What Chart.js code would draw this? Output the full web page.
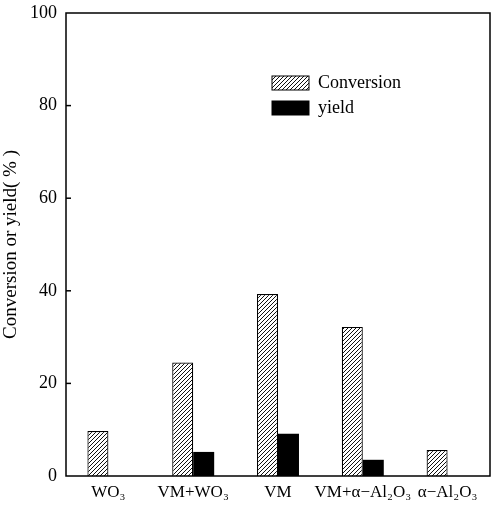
<!DOCTYPE html>
<html>
<head>
<meta charset="utf-8">
<script src="https://cdn.jsdelivr.net/npm/chart.js@4.4.0/dist/chart.umd.min.js"></script>
<style>
html,body{margin:0;padding:0;background:#fff;}
#wrap{width:496px;height:512px;position:relative;}
</style>
</head>
<body>
<div id="wrap"><canvas id="c" width="496" height="512"></canvas></div>
<script>
const categories = ['WO₃', 'VM+WO₃', 'VM', 'VM+α−Al₂O₃', 'α−Al₂O₃'];
const conversion = [9.7, 24.5, 39.3, 32.2, 5.6];
const yieldVals = [0, 5.2, 9.1, 3.5, 0];
const yTicks = [0, 20, 40, 60, 80, 100];
const seriesNames = ['Conversion', 'yield'];

function hatch() {
  const s = 4;
  const p = document.createElement('canvas');
  p.width = s; p.height = s;
  const g = p.getContext('2d');
  g.fillStyle = '#fff'; g.fillRect(0, 0, s, s);
  g.strokeStyle = '#111'; g.lineWidth = 1;
  g.beginPath();
  g.moveTo(0, s); g.lineTo(s, 0);
  g.moveTo(-1, 1); g.lineTo(1, -1);
  g.moveTo(s - 1, s + 1); g.lineTo(s + 1, s - 1);
  g.stroke();
  return g.createPattern(p, 'repeat');
}
const hatchPattern = hatch();
const FONT = "'Liberation Serif', 'Times New Roman', serif";

const framePlugin = {
  id: 'frame',
  afterDraw(chart) {
    const {ctx, chartArea: a, scales} = chart;
    ctx.save();
    ctx.strokeStyle = '#000';
    ctx.lineWidth = 1.5;
    ctx.strokeRect(a.left, a.top, a.right - a.left, a.bottom - a.top);
    yTicks.forEach(v => {
      if (v === 0 || v === 100) return;
      const y = scales.y.getPixelForValue(v);
      ctx.beginPath(); ctx.moveTo(a.left, y); ctx.lineTo(a.left + 5, y); ctx.stroke();
    });
    // legend
    const lx = 272, bw = 37, bh = 14;
    const rows = [{y: 76, fill: hatchPattern}, {y: 101, fill: '#000'}];
    ctx.font = '18px ' + FONT;
    ctx.textBaseline = 'middle';
    rows.forEach((r, i) => {
      ctx.fillStyle = r.fill;
      ctx.fillRect(lx, r.y, bw, bh);
      ctx.lineWidth = 1;
      ctx.strokeStyle = '#000';
      ctx.strokeRect(lx, r.y, bw, bh);
      ctx.fillStyle = '#000';
      ctx.fillText(seriesNames[i], lx + 46, r.y + bh / 2);
    });
    ctx.restore();
  }
};

new Chart(document.getElementById('c'), {
  type: 'bar',
  data: {
    labels: categories,
    datasets: [
      {label: seriesNames[0], data: conversion, backgroundColor: hatchPattern, borderColor: '#000', borderWidth: 1.2, borderSkipped: 'bottom'},
      {label: seriesNames[1], data: yieldVals, backgroundColor: '#000', borderColor: '#000', borderWidth: 0}
    ]
  },
  options: {
    responsive: false,
    animation: false,
    layout: {padding: {top: 13, right: 6, bottom: 0, left: 0}},
    datasets: {bar: {categoryPercentage: 0.495, barPercentage: 1}},
    plugins: {legend: {display: false}, tooltip: {enabled: false}},
    scales: {
      x: {
        grid: {display: false, drawTicks: false},
        border: {display: false},
        ticks: {color: '#000', font: {family: FONT, size: 17}, padding: 6, maxRotation: 0, autoSkip: false},
        afterFit(s) { s.height = 36; s.paddingLeft = 0; s.paddingRight = 0; }
      },
      y: {
        min: 0, max: 100,
        afterBuildTicks(s) { s.ticks = yTicks.map(v => ({value: v})); },
        grid: {display: false, drawTicks: false},
        border: {display: false},
        ticks: {color: '#000', font: {family: FONT, size: 18}, padding: 9},
        title: {display: true, text: 'Conversion or yield( % )', color: '#000', font: {family: FONT, size: 19}, padding: 0},
        afterFit(s) { s.width = 66; s.paddingTop = 0; s.paddingBottom = 0; }
      }
    }
  },
  plugins: [framePlugin]
});
</script>
</body>
</html>
